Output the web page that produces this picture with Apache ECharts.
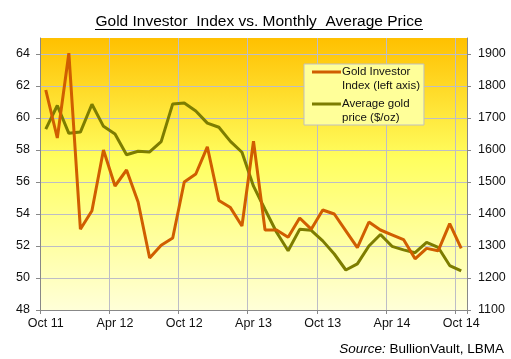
<!DOCTYPE html>
<html><head><meta charset="utf-8">
<script src="https://cdn.jsdelivr.net/npm/echarts@6/dist/echarts.min.js"></script>
<style>html,body{margin:0;padding:0;background:#fff}#c{width:511px;height:359px}</style>
</head><body><div id="c"></div>
<script>
const months = ['Oct 11','Nov 11','Dec 11','Jan 12','Feb 12','Mar 12','Apr 12','May 12','Jun 12','Jul 12','Aug 12','Sep 12',
  'Oct 12','Nov 12','Dec 12','Jan 13','Feb 13','Mar 13','Apr 13','May 13','Jun 13','Jul 13','Aug 13','Sep 13',
  'Oct 13','Nov 13','Dec 13','Jan 14','Feb 14','Mar 14','Apr 14','May 14','Jun 14','Jul 14','Aug 14','Sep 14','Oct 14'];
const tickLabels = ['Oct 11','Apr 12','Oct 12','Apr 13','Oct 13','Apr 14','Oct 14'];
const investorIndex = [61.75,58.75,64.05,53.05,54.2,58.0,55.75,56.75,54.75,51.25,52.05,52.5,
  56.0,56.5,58.2,54.85,54.4,53.25,58.55,53.0,53.0,52.55,53.75,53.05,
  54.25,54.0,52.95,51.9,53.5,53.0,52.7,52.4,51.2,51.85,51.7,53.4,51.85];
const goldPrice = [1665,1739,1652,1656,1743,1674,1650,1585,1596,1594,1626,1744,
  1747,1722,1684,1671,1627,1593,1487,1414,1343,1285,1352,1349,
  1316,1275,1225,1244,1300,1336,1299,1288,1279,1311,1296,1239,1222];
const seriesNames = ['Gold Investor\nIndex (left axis)', 'Average gold\nprice ($/oz)'];

const chart = echarts.init(document.getElementById('c'), null, {renderer:'canvas'});
const labelFont = {fontFamily:'"Liberation Sans", Arial, sans-serif', fontSize:12.5, color:'#111'};
const legendIcon = 'path://M0,5.5h29v3h-29z M0,0h0.02v0.02h-0.02z M0,28h0.02v0.02h-0.02z';
const splitColors = [];
for (let i = 0; i < 9; i++) splitColors.push('#BDBDC6');
splitColors.push('rgba(0,0,0,0)');

chart.setOption({
  animation:false,
  backgroundColor:'#fff',
  grid:{left:40, right:44, top:38, bottom:49, show:true, borderWidth:0,
    backgroundColor:new echarts.graphic.LinearGradient(0,0,0,1,[
      {offset:0,color:'#FFC000'},{offset:0.45,color:'#FFFF60'},{offset:1,color:'#FFFFD8'}])},
  graphic:[
    {type:'text', x:259, y:22, style:{text:'Gold Investor  Index vs. Monthly  Average Price',
      font:'15.5px "Liberation Sans", Arial, sans-serif', fill:'#000', textAlign:'center', textVerticalAlign:'middle'}},
    {type:'line', shape:{x1:95,y1:29.5,x2:423,y2:29.5}, style:{stroke:'#000', lineWidth:1}},
    {type:'text', x:504, y:349, style:{text:'{i|Source:} BullionVault, LBMA',
      font:'13.5px "Liberation Sans", Arial, sans-serif', fill:'#000', textAlign:'right', textVerticalAlign:'middle',
      rich:{i:{fontStyle:'italic', fontSize:13.5, fontFamily:'"Liberation Sans", Arial, sans-serif'}}}}
  ],
  legend:{
    orient:'vertical', left:304, top:64, padding:[1,4,0,8], itemGap:4,
    backgroundColor:'#FFFF99', borderColor:'#BFBFBF', borderWidth:1, borderRadius:0,
    itemWidth:29, itemHeight:28, itemStyle:{borderWidth:0},
    textStyle:{fontFamily:'"Liberation Sans", Arial, sans-serif', fontSize:11.5, lineHeight:14, color:'#111', padding:[0,0,0,-4]},
    data:[{name:seriesNames[0], icon:legendIcon},{name:seriesNames[1], icon:legendIcon}]
  },
  xAxis:{type:'category', data:months, boundaryGap:true,
    axisLine:{lineStyle:{color:'#888', width:1}},
    axisTick:{show:true, length:4, interval:5, alignWithLabel:false, lineStyle:{color:'#888'}},
    axisLabel:Object.assign({margin:7, interval:5}, labelFont),
    splitLine:{show:true, interval:5, lineStyle:{color:'#BDBDC6', width:1}}
  },
  yAxis:[
    {type:'value', min:48, max:65, interval:2, position:'left',
      axisLine:{show:true, lineStyle:{color:'#888'}},
      axisTick:{show:true, length:4, lineStyle:{color:'#888'}},
      axisLabel:Object.assign({margin:10, showMaxLabel:false, formatter:function(v){return String(v);}}, labelFont),
      splitLine:{show:true, lineStyle:{color:splitColors, width:1}}},
    {type:'value', min:1100, max:1950, interval:100, position:'right',
      axisLine:{show:true, lineStyle:{color:'#888'}},
      axisTick:{show:true, length:4, lineStyle:{color:'#888'}},
      axisLabel:Object.assign({margin:11, showMaxLabel:false, formatter:function(v){return String(v);}}, labelFont),
      splitLine:{show:false}}
  ],
  series:[
    {name:seriesNames[0], type:'line', yAxisIndex:0, symbol:'none', z:3,
      lineStyle:{color:'#D05E00', width:3}, itemStyle:{color:'#D05E00'},
      data:investorIndex},
    {name:seriesNames[1], type:'line', yAxisIndex:1, symbol:'none', z:2,
      lineStyle:{color:'#7D7D00', width:3}, itemStyle:{color:'#7D7D00'},
      data:goldPrice}
  ]
});
</script></body></html>
